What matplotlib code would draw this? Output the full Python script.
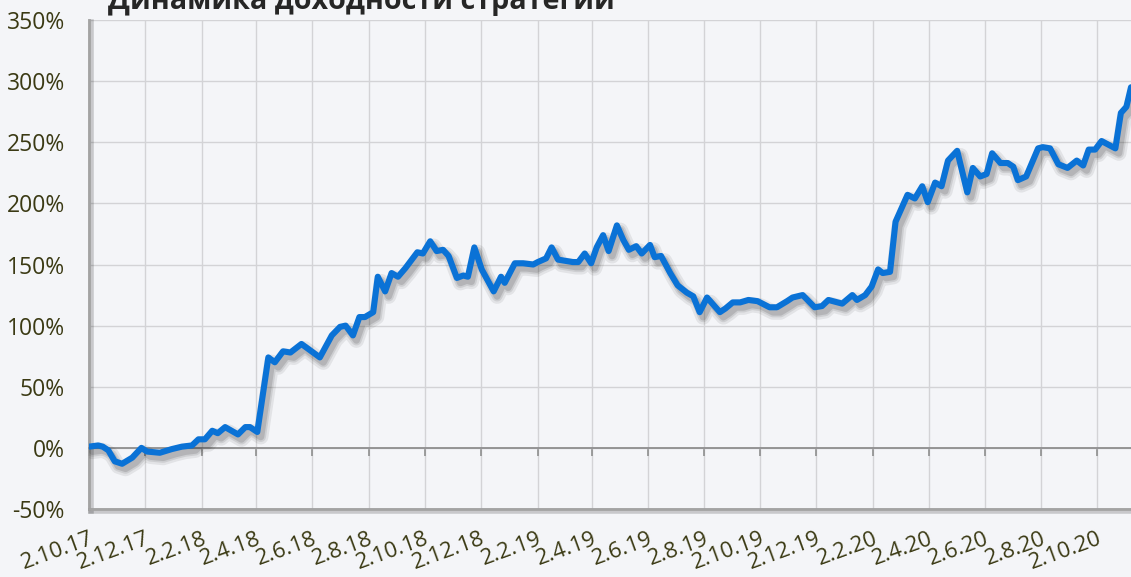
import matplotlib
matplotlib.use("Agg")
import matplotlib.pyplot as plt
import matplotlib.patheffects as pe
import pandas as pd

# ---------------- data ----------------
dates = [
    "2017-10-02", "2017-10-12", "2017-10-17", "2017-10-23", "2017-10-30", "2017-11-07",
    "2017-11-18", "2017-11-28", "2017-12-04", "2017-12-18", "2017-12-31", "2018-01-11",
    "2018-01-22", "2018-01-29", "2018-02-05", "2018-02-13", "2018-02-19", "2018-02-27",
    "2018-03-13", "2018-03-21", "2018-03-26", "2018-04-03", "2018-04-15", "2018-04-22",
    "2018-05-01", "2018-05-09", "2018-05-21", "2018-06-10", "2018-06-23", "2018-07-02",
    "2018-07-08", "2018-07-16", "2018-07-23", "2018-07-29", "2018-08-07", "2018-08-12",
    "2018-08-20", "2018-08-27", "2018-09-03", "2018-09-11", "2018-09-24", "2018-09-30",
    "2018-10-08", "2018-10-15", "2018-10-22", "2018-10-28", "2018-11-06", "2018-11-13",
    "2018-11-18", "2018-11-25", "2018-12-03", "2018-12-16", "2018-12-24", "2018-12-28",
    "2019-01-08", "2019-01-17", "2019-01-28", "2019-02-02", "2019-02-11", "2019-02-17",
    "2019-02-24", "2019-03-12", "2019-03-18", "2019-03-25", "2019-04-01", "2019-04-07",
    "2019-04-14", "2019-04-20", "2019-04-29", "2019-05-06", "2019-05-12", "2019-05-20",
    "2019-05-26", "2019-06-04", "2019-06-09", "2019-06-16", "2019-06-26", "2019-07-04",
    "2019-07-14", "2019-07-21", "2019-07-28", "2019-08-05", "2019-08-19", "2019-08-25",
    "2019-09-02", "2019-09-10", "2019-09-19", "2019-09-29", "2019-10-12", "2019-10-20",
    "2019-10-31", "2019-11-06", "2019-11-17", "2019-11-30", "2019-12-08", "2019-12-15",
    "2019-12-30", "2020-01-10", "2020-01-15", "2020-01-24", "2020-01-31", "2020-02-07",
    "2020-02-12", "2020-02-20", "2020-02-26", "2020-03-10", "2020-03-18", "2020-03-26",
    "2020-04-01", "2020-04-09", "2020-04-16", "2020-04-23", "2020-05-03", "2020-05-14",
    "2020-05-20", "2020-05-28", "2020-06-04", "2020-06-10", "2020-06-19", "2020-06-27",
    "2020-07-03", "2020-07-08", "2020-07-17", "2020-07-30", "2020-08-04", "2020-08-12",
    "2020-08-21", "2020-08-31", "2020-09-10", "2020-09-17", "2020-09-23", "2020-09-30",
    "2020-10-07", "2020-10-22", "2020-10-28", "2020-11-03", "2020-11-08",
]
values = [
    1, 2, 1, -2, -11, -13,
    -8, 0, -3, -4, -1, 1,
    2, 7, 7, 14, 12, 17,
    11, 17, 17, 13, 74, 70,
    79, 78, 85, 74, 92, 99,
    100, 92, 107, 107, 111, 140,
    128, 143, 140, 147, 160, 159,
    169, 161, 162, 157, 139, 141,
    140, 164, 146, 128, 140, 135,
    151, 151, 150, 152, 155, 164,
    154, 152, 152, 159, 151, 164,
    174, 161, 182, 170, 162, 165,
    159, 166, 156, 157, 143, 133,
    127, 124, 111, 123, 111, 114,
    119, 119, 121, 120, 115, 115,
    120, 123, 125, 115, 116, 121,
    118, 125, 121, 125, 132, 146,
    143, 144, 185, 207, 204, 214,
    201, 217, 214, 235, 243, 209,
    229, 222, 224, 241, 233, 233,
    230, 219, 222, 245, 246, 245,
    232, 229, 235, 231, 244, 244,
    251, 245, 274, 279, 295,
]
tick_labels = ["2.10.17", "2.12.17", "2.2.18", "2.4.18", "2.6.18", "2.8.18", "2.10.18",
               "2.12.18", "2.2.19", "2.4.19", "2.6.19", "2.8.19", "2.10.19", "2.12.19",
               "2.2.20", "2.4.20", "2.6.20", "2.8.20", "2.10.20"]
y_ticks = [-50, 0, 50, 100, 150, 200, 250, 300, 350]
title = "Динамика доходности стратегии"

# ---------------- style ----------------
BG = "#f4f5f8"
TXT = "#3b3a14"
plt.rcParams["font.family"] = ["Open Sans", "DejaVu Sans"]

W, H = 1131, 577
fig = plt.figure(figsize=(W / 100, H / 100), dpi=100, facecolor=BG)
ax = fig.add_axes([89 / W, 1 - 509 / H, 1 - 89 / W, (509 - 20) / H])
ax.set_facecolor(BG)

x = pd.to_datetime(dates)
xt = pd.to_datetime(tick_labels, format="%d.%m.%y")

shadow = [
    pe.SimpleLineShadow(offset=(2.5, -3.5), shadow_color="#000000", alpha=0.07, linewidth=11),
    pe.SimpleLineShadow(offset=(2.5, -3.5), shadow_color="#000000", alpha=0.09, linewidth=7.5),
    pe.SimpleLineShadow(offset=(2.5, -3.5), shadow_color="#000000", alpha=0.12, linewidth=5),
    pe.Normal(),
]
ax.plot(x, values, color="#0a72d6", lw=4.4, solid_joinstyle="round",
        solid_capstyle="round", path_effects=shadow, zorder=5)

ax.set_xlim(x[0], x[-1])
ax.set_ylim(-50, 350)
ax.set_yticks(y_ticks)
ax.set_yticklabels([f"{v}%" for v in y_ticks])
ax.set_xticks(xt)
ax.set_xticklabels(tick_labels)

ax.grid(True, color="#d3d3d6", lw=1, zorder=0)
ax.set_axisbelow(True)

# zero axis line (top spine moved to 0) with small tick marks
ax.spines["top"].set_position(("data", 0))
ax.spines["top"].set_color("#8e8e8e")
ax.spines["top"].set_linewidth(1.3)
ax.spines["right"].set_visible(False)

sp_shadow = [pe.SimpleLineShadow(offset=(1.5, -1.5), shadow_color="#000000", alpha=0.18, linewidth=4),
             pe.Normal()]
for s in ("left", "bottom"):
    ax.spines[s].set_color("#a3a3a3")
    ax.spines[s].set_linewidth(2)
    ax.spines[s].set_path_effects(sp_shadow)

ax.tick_params(axis="x", which="major", bottom=False, top=True, direction="in",
               length=6, width=1.2, color="#8e8e8e", labeltop=False,
               labelbottom=True, labelsize=16, labelcolor=TXT, pad=14)
ax.tick_params(axis="y", which="major", left=False, labelsize=16.5,
               labelcolor=TXT, pad=14)
for lab in ax.get_xticklabels():
    lab.set_rotation(20)
    lab.set_ha("right")
    lab.set_va("top")
    lab.set_rotation_mode("anchor")

fig.text(108 / W, 1 - 9 / H, title, fontsize=20.7, fontweight="bold",
         color="#262626", ha="left", va="baseline")

fig.savefig("out.png", dpi=100, facecolor=BG)
